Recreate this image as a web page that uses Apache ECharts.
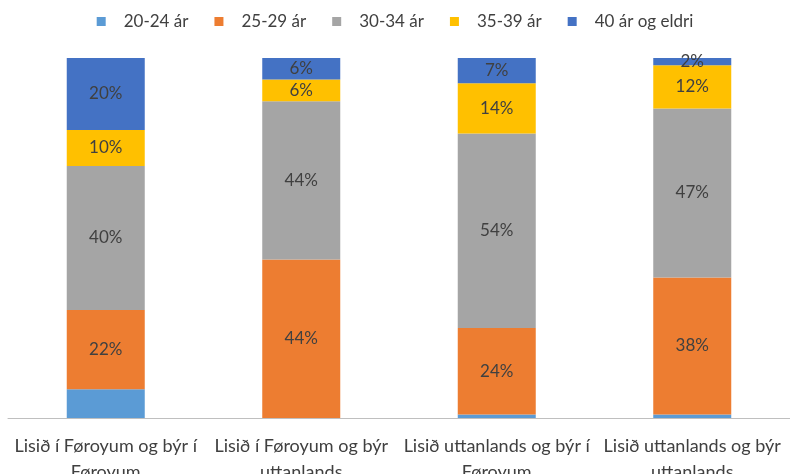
<!DOCTYPE html>
<html>
<head>
<meta charset="utf-8">
<script src="https://cdn.jsdelivr.net/npm/echarts@6/dist/echarts.min.js"></script>
<style>
	html, body { margin: 0; padding: 0; background: #fff; }
	#main { width: 790px; height: 474px; }
</style>
</head>
<body>
<div id="main"></div>
<script>
var categories = ['Lisið í Føroyum og býr í\nFøroyum', 'Lisið í Føroyum og býr\nuttanlands', 'Lisið uttanlands og býr í\nFøroyum', 'Lisið uttanlands og býr\nuttanlands'];
var seriesNames = ['20-24 ár', '25-29 ár', '30-34 ár', '35-39 ár', '40 ár og eldri'];
var age2024 = [8, 0, 1, 1];
var age2529 = [22, 44, 24, 38];
var age3034 = [40, 44, 54, 47];
var age3539 = [10, 6, 14, 12];
var age40 = [20, 6, 7, 2];
var colors = ['#5B9BD5', '#ED7D31', '#A5A5A5', '#FFC000', '#4472C4'];

var allValues = [age2024, age2529, age3034, age3539, age40];
var series = [];
for (var i = 0; i < seriesNames.length; i++) {
	series.push({
		name: seriesNames[i],
		type: 'bar',
		stack: 'total',
		barWidth: 78,
		data: allValues[i],
		label: {
			show: i > 0,
			position: 'inside',
			formatter: '{c}%',
			color: '#404040',
			fontSize: 17,
			fontFamily: 'Lato'
		}
	});
}

var myChart = echarts.init(document.getElementById('main'));
myChart.setOption({
	animation: false,
	color: colors,
	textStyle: { fontFamily: 'Lato' },
	legend: {
		top: 8,
		left: 'center',
		itemWidth: 9,
		itemHeight: 9,
		itemGap: 26,
		icon: 'rect',
		data: seriesNames,
		textStyle: {
			color: '#404040',
			fontSize: 17,
			padding: [0, 0, 0, 13]
		}
	},
	grid: {
		left: 8,
		right: 0,
		top: 58,
		bottom: 56,
		containLabel: false,
		outerBoundsMode: 'none'
	},
	xAxis: {
		type: 'category',
		data: categories,
		axisTick: { show: false },
		axisLine: { lineStyle: { color: '#bfbfbf' } },
		axisLabel: {
			color: '#404040',
			fontSize: 18,
			lineHeight: 26,
			margin: 15,
			interval: 0
		}
	},
	yAxis: {
		type: 'value',
		min: 0,
		max: 100,
		show: false,
		splitLine: { show: false }
	},
	series: series
});
</script>
</body>
</html>
